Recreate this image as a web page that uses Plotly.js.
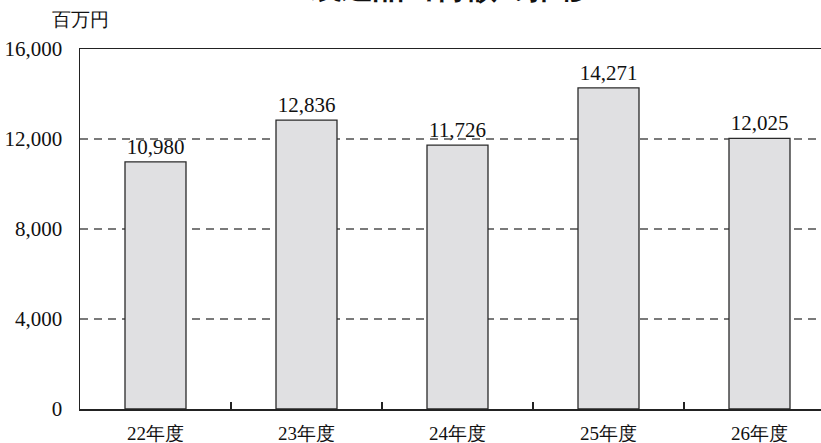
<!DOCTYPE html>
<html>
<head>
<meta charset="utf-8">
<script src="https://cdn.plot.ly/plotly-3.0.1.min.js"></script>
<style>
html,body{margin:0;padding:0;overflow:hidden;background:#fff;}
#chart{width:850px;height:443px;}
</style>
</head>
<body>
<div id="chart"></div>
<script>
const categories = ["22年度", "23年度", "24年度", "25年度", "26年度"];
const values = [10980, 12836, 11726, 14271, 12025];
const yTicks = [0, 4000, 8000, 12000, 16000];
const yTickLabels = ["0", "4,000", "8,000", "12,000", "16,000"];
const unitLabel = "百万円";
const chartTitle = "製造品出荷額の推移";

const serif = "Liberation Serif";

const trace = {
  type: "bar",
  x: categories,
  y: values,
  marker: {color: "#e0e0e2", line: {color: "#2a2a2a", width: 1.3}},
  texttemplate: "%{y:,}",
  textposition: "outside",
  cliponaxis: false,
  textfont: {family: serif, size: 21, color: "#111"},
  hoverinfo: "skip"
};

const layout = {
  width: 850,
  height: 443,
  autosize: false,
  margin: {l: 80, r: 15, t: 49, b: 34},
  paper_bgcolor: "#fff",
  plot_bgcolor: "#fff",
  showlegend: false,
  bargap: 0.596,
  font: {family: serif, color: "#111"},
  xaxis: {
    type: "category",
    showline: true,
    linecolor: "#222",
    linewidth: 1.5,
    mirror: true,
    ticks: "inside",
    ticklen: 7,
    tickwidth: 1.3,
    tickcolor: "#222",
    tickson: "boundaries",
    showgrid: false,
    ticklabelstandoff: 7,
    tickfont: {family: serif, size: 19, color: "#111"}
  },
  yaxis: {
    range: [0, 16000],
    tickvals: yTicks,
    ticktext: yTickLabels,
    showline: true,
    linecolor: "#222",
    linewidth: 1.5,
    ticks: "",
    showgrid: true,
    gridcolor: "#7a7a7a",
    gridwidth: 1.5,
    griddash: "8px,6px",
    zeroline: false,
    ticklabelstandoff: 12,
    tickfont: {family: serif, size: 21, color: "#111"}
  },
  annotations: [
    {
      text: unitLabel,
      xref: "paper", yref: "paper",
      x: -0.04, y: 1.083,
      xanchor: "left", yanchor: "middle",
      showarrow: false,
      font: {family: serif, size: 19, color: "#111"}
    },
    {
      text: "<b>" + chartTitle + "</b>",
      xref: "paper", yref: "paper",
      x: (450 - 80) / 755, y: 1.17,
      xanchor: "center", yanchor: "middle",
      showarrow: false,
      font: {family: serif, size: 31, color: "#111"}
    }
  ]
};

Plotly.newPlot("chart", [trace], layout, {displayModeBar: false, staticPlot: true});
</script>
</body>
</html>
